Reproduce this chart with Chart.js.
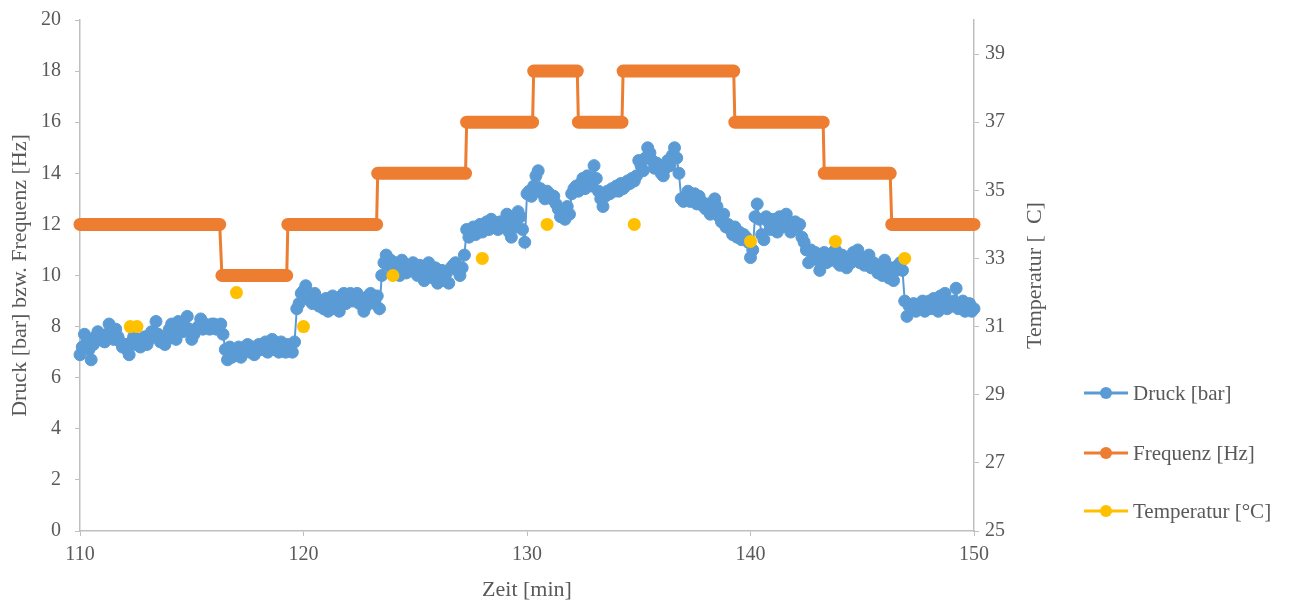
<!DOCTYPE html>
<html lang="de">
<head>
<meta charset="utf-8">
<title>Druck, Frequenz und Temperatur</title>
<script src="https://cdn.jsdelivr.net/npm/chart.js@4/dist/chart.umd.min.js"></script>
<style>
  html, body { margin: 0; padding: 0; background: #ffffff; }
  #chartBox { position: relative; width: 1289px; height: 601px; }
</style>
</head>
<body>
<div id="chartBox"><canvas id="messChart"></canvas></div>
<script>
// Messreihe: Druck alle 0,1 min, Frequenz als Stufen, Temperatur als Einzelwerte
const zeitStart = 110;
const zeitSchritt = 0.1;

// zehn Druckwerte je Minute (110,0 ... 149,9) plus Endwert bei 150
const druckWerte = [
  6.9, 7.2, 7.7, 7.4, 7.1, 6.7, 7.3, 7.6, 7.8, 7.5,
  7.6, 7.4, 7.7, 8.1, 7.6, 7.5, 7.9, 7.6, 7.4, 7.2,
  7.3, 7.1, 6.9, 7.4, 7.6, 7.3, 7.5, 7.2, 7.4, 7.6,
  7.3, 7.5, 7.8, 7.6, 8.2, 7.7, 7.4, 7.6, 7.3, 7.5,
  7.9, 8.1, 7.7, 7.5, 8.2, 7.9, 7.8, 8.0, 8.4, 7.9,
  7.5, 7.7, 7.9, 8.0, 8.3, 7.9, 8.1, 8.0, 7.9, 8.1,
  8.1, 7.9, 8.0, 8.1, 7.7, 7.1, 6.7, 7.2, 6.8, 7.0,
  6.9, 7.2, 6.8, 7.0, 7.1, 7.3, 7.0, 7.2, 6.9, 7.1,
  7.3, 7.1, 7.2, 7.4, 7.0, 7.3, 7.5, 7.1, 7.2, 7.0,
  7.4, 7.2, 7.0, 7.3, 7.1, 7.0, 7.4, 8.7, 8.9, 9.3,
  9.4, 9.6, 9.2, 9.0, 8.9, 9.3, 9.1, 8.8, 9.0, 8.7,
  9.1, 8.6, 8.9, 9.2, 8.7, 9.0, 8.6, 9.2, 9.3, 8.9,
  9.1, 9.3, 9.0, 9.2, 9.3, 8.9, 9.1, 8.6, 8.8, 9.2,
  9.3, 9.1, 8.9, 9.2, 8.7, 10.0, 10.5, 10.8, 10.4, 10.6,
  10.2, 10.5, 10.3, 10.0, 10.6, 10.3, 10.1, 10.4, 10.2, 10.5,
  10.3, 10.0, 10.4, 10.1, 9.8, 10.2, 10.5, 10.0, 9.9, 10.3,
  9.7, 10.0, 10.2, 9.8, 10.1, 9.7, 10.3, 10.4, 10.5, 10.2,
  10.0, 10.3, 10.8, 11.8, 11.5, 11.7, 11.9, 11.6, 11.8, 12.0,
  11.7, 11.9, 12.1, 11.8, 12.2, 11.9, 12.0, 11.8, 12.1, 11.9,
  12.0, 12.4, 11.7, 11.5, 12.2, 11.9, 12.5, 12.3, 11.8, 11.3,
  13.2, 13.3, 13.1, 13.5, 13.9, 14.1, 13.4, 13.2, 13.0, 13.3,
  13.2, 13.0, 13.1, 12.8, 12.6, 12.3, 12.5, 12.2, 12.7, 12.4,
  13.2, 13.4, 13.5, 13.3, 13.6, 13.8, 13.4, 13.9, 13.7, 13.5,
  14.3, 13.8, 13.3, 13.0, 12.7, 13.1, 13.3, 13.2, 13.4, 13.3,
  13.5, 13.3, 13.6, 13.4, 13.5, 13.7, 13.6, 13.8, 13.7, 13.9,
  14.5, 14.3, 14.1, 14.6, 15.0, 14.8, 14.5, 14.2, 14.4, 14.3,
  14.0, 13.9, 14.2, 14.5, 14.3, 14.7, 15.0, 14.6, 14.0, 13.0,
  12.9, 13.1, 13.3, 12.9, 13.0, 13.2, 12.8, 13.1, 12.9, 12.7,
  12.6, 12.8, 12.4, 12.5, 13.0, 12.7, 12.3, 12.1, 12.4, 11.9,
  12.0, 11.8, 11.6, 11.9, 11.5, 11.7, 11.4, 11.6, 11.5, 11.3,
  10.7, 11.0, 12.3, 12.8, 12.2, 11.6, 11.4, 12.3, 12.1, 11.8,
  12.2, 12.0, 11.7, 12.3, 11.9, 12.2, 12.4, 11.9, 11.7, 12.0,
  12.1, 11.9, 12.0, 11.5, 11.3, 11.0, 10.5, 11.0, 10.8, 10.9,
  10.6, 10.2, 10.7, 10.9, 10.5, 10.8, 10.6, 10.9, 11.0, 10.5,
  10.4, 10.8, 10.6, 10.3, 10.7, 10.5, 10.9, 10.6, 11.0, 10.5,
  10.7, 10.4, 10.6, 10.8, 10.3, 10.5, 10.4, 10.1, 10.3, 10.0,
  10.6, 10.2, 9.9, 10.3, 9.8, 10.2, 10.4, 10.5, 10.2, 9.0,
  8.4, 8.8, 8.7, 8.9, 8.6, 8.8, 8.7, 9.0, 8.6, 8.8,
  9.0, 8.7, 9.1, 8.8, 8.6, 9.2, 8.9, 9.3, 8.7, 8.9,
  8.8, 9.0, 9.5, 8.7, 8.9, 9.0, 8.6, 8.8, 8.9, 8.6,
  8.7
];
const druckZeit = druckWerte.map((_, i) => Math.round((zeitStart + i * zeitSchritt) * 10) / 10);

// Frequenzstufen: Anfang und Ende jeder Stufe
const frequenzZeit = [110, 116.25, 116.35, 119.25, 119.3, 123.27, 123.32, 127.25, 127.3, 130.25, 130.3,
  132.25, 132.3, 134.25, 134.3, 139.25, 139.3, 143.25, 143.3, 146.25, 146.32, 150];
const frequenzWerte = [12, 12, 10, 10, 12, 12, 14, 14, 16, 16, 18,
  18, 16, 16, 18, 18, 16, 16, 14, 14, 12, 12];

const tempZeit = [112.25, 112.55, 117.0, 120.0, 124.0, 128.0, 130.9, 134.8, 140.0, 143.8, 146.9];
const tempWerte = [31, 31, 32, 31, 32.5, 33, 34, 34, 33.5, 33.5, 33];

const xTicks = [110, 120, 130, 140, 150];
const tempTicks = [25, 27, 29, 31, 33, 35, 37, 39];

const seriesLabels = ["Druck [bar]", "Frequenz [Hz]", "Temperatur [°C]"];
const seriesColors = ["#5B9BD5", "#ED7D31", "#FFC000"];

const textColor = "#595959";
const axisColor = "#bfbfbf";
const fontFamily = "'Liberation Serif', 'Times New Roman', serif";

function toPoints(xs, ys) {
  return xs.map((x, i) => ({ x: x, y: ys[i] }));
}

// feste Breite fuer die senkrechten Achsen, Ueberstand nur halbe Beschriftungshoehe
function fixVerticalAxis(axis) {
  axis.width = 80;
  axis.paddingTop = 12;
  axis.paddingBottom = 12;
}

// Legende rechts unten und rechter Achsentitel (von unten nach oben lesbar)
const extraText = {
  id: "extraText",
  afterDraw(chart) {
    const ctx = chart.ctx;
    const area = chart.chartArea;
    const yT = chart.scales.yTemp;

    ctx.save();
    ctx.fillStyle = textColor;
    ctx.font = "22px " + fontFamily;
    ctx.textAlign = "center";
    ctx.textBaseline = "middle";
    ctx.translate(yT.left + 61, (area.top + area.bottom) / 2);
    ctx.rotate(-Math.PI / 2);
    ctx.fillText("Temperatur [  C]", 0, 0);
    ctx.restore();

    const lx = 1084;
    const rowY = [393, 453, 511];
    ctx.save();
    ctx.font = "21px " + fontFamily;
    ctx.textBaseline = "middle";
    ctx.textAlign = "left";
    seriesLabels.forEach((label, i) => {
      const y = rowY[i];
      ctx.strokeStyle = seriesColors[i];
      ctx.lineWidth = 3;
      ctx.beginPath();
      ctx.moveTo(lx, y);
      ctx.lineTo(lx + 44, y);
      ctx.stroke();
      ctx.fillStyle = seriesColors[i];
      ctx.beginPath();
      ctx.arc(lx + 22, y, 6, 0, Math.PI * 2);
      ctx.fill();
      ctx.fillStyle = textColor;
      ctx.fillText(label, lx + 49, y + 1);
    });
    ctx.restore();
  }
};

new Chart(document.getElementById("messChart"), {
  type: "line",
  data: {
    datasets: [
      {
        label: seriesLabels[2],
        data: toPoints(tempZeit, tempWerte),
        yAxisID: "yTemp",
        showLine: false,
        pointRadius: 6.5,
        pointHoverRadius: 6.5,
        pointBackgroundColor: seriesColors[2],
        pointBorderWidth: 0,
        borderColor: seriesColors[2],
        order: 0
      },
      {
        label: seriesLabels[1],
        data: toPoints(frequenzZeit, frequenzWerte),
        yAxisID: "y",
        borderColor: seriesColors[1],
        borderWidth: 13,
        borderCapStyle: "round",
        pointRadius: 0,
        segment: {
          // waagerechte Stufen dick, Uebergaenge duenn
          borderWidth: (c) => (c.p0.parsed.y === c.p1.parsed.y ? 13 : 3)
        },
        order: 1
      },
      {
        label: seriesLabels[0],
        data: toPoints(druckZeit, druckWerte),
        yAxisID: "y",
        borderColor: seriesColors[0],
        borderWidth: 2,
        pointRadius: 6,
        pointHoverRadius: 6,
        pointBackgroundColor: seriesColors[0],
        pointBorderColor: seriesColors[0],
        pointBorderWidth: 1,
        order: 2
      }
    ]
  },
  options: {
    responsive: true,
    maintainAspectRatio: false,
    animation: false,
    clip: false,
    layout: {
      padding: { top: 20, right: 235, bottom: 0, left: 0 }
    },
    plugins: {
      legend: { display: false },
      tooltip: { enabled: false }
    },
    scales: {
      x: {
        type: "linear",
        min: 110,
        max: 150,
        afterBuildTicks: (axis) => {
          axis.ticks = xTicks.map((v) => ({ value: v }));
        },
        afterFit: (axis) => {
          axis.height = 70;
        },
        border: { color: axisColor, width: 1.5 },
        grid: { drawOnChartArea: false, color: axisColor, tickLength: 5 },
        ticks: { color: textColor, font: { family: fontFamily, size: 20 }, padding: 7, maxRotation: 0 },
        title: {
          display: true,
          text: "Zeit [min]",
          color: textColor,
          font: { family: fontFamily, size: 22 },
          padding: { top: 4, bottom: -2 }
        }
      },
      y: {
        position: "left",
        min: 0,
        max: 20,
        afterFit: fixVerticalAxis,
        border: { color: axisColor, width: 1.5 },
        grid: { drawOnChartArea: false, color: axisColor, tickLength: 5 },
        ticks: { stepSize: 2, color: textColor, font: { family: fontFamily, size: 20 }, padding: 14 },
        title: {
          display: true,
          text: "Druck [bar] bzw. Frequenz [Hz]",
          color: textColor,
          font: { family: fontFamily, size: 22 },
          padding: { top: 7, bottom: 0 }
        }
      },
      yTemp: {
        position: "right",
        min: 25,
        max: 40,
        afterBuildTicks: (axis) => {
          axis.ticks = tempTicks.map((v) => ({ value: v }));
        },
        afterFit: fixVerticalAxis,
        border: { color: axisColor, width: 1.5 },
        grid: { drawOnChartArea: false, color: axisColor, tickLength: 5 },
        ticks: { color: textColor, font: { family: fontFamily, size: 20 }, padding: 6 }
      }
    }
  },
  plugins: [extraText]
});
</script>
</body>
</html>
